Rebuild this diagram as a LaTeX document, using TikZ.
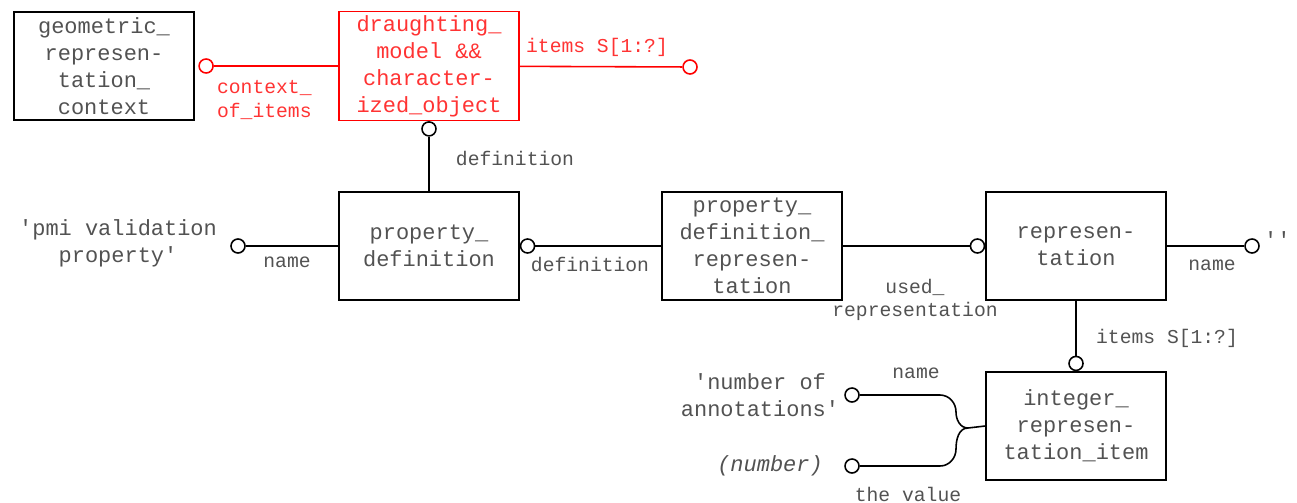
\documentclass[tikz,border=0pt]{standalone}
\usepackage{fontspec}
\setmonofont{Liberation Mono}
\usetikzlibrary{positioning}
\tikzset{
  ent/.style={draw,line width=0.9pt,align=center,minimum width=3.6cm,minimum height=2.16cm,
              inner sep=2pt,font=\ttfamily\fontsize{12.5}{15.4}\selectfont,text=black!68},
  sel/.style={ent,draw=red,text=red!80},          % highlighted entity
  rng/.style={draw,circle,fill=white,line width=0.9pt,minimum size=0.28cm,inner sep=0pt},
  lbl/.style={font=\ttfamily\fontsize{11.2}{13.5}\selectfont,text=black!68,inner sep=1pt,align=center},
  val/.style={font=\ttfamily\fontsize{12.5}{15.4}\selectfont,text=black!68,align=center,inner sep=1pt},
  ln/.style={line width=0.9pt}
}

\begin{document}
\begin{tikzpicture}[x=0.02cm,y=-0.02cm]
  \useasboundingbox (0,0) rectangle (1297,503);
  % entities
  \node[ent] (geo) at (104,66) {geometric\_\\represen-\\tation\_\\context};
  \node[sel] (drm) at (429,66) {draughting\_\\model \&\&\\character-\\ized\_object};
  \node[ent] (pd) at (429,246) {property\_\\definition};
  \node[ent] (pdr) at (752,246) {property\_\\definition\_\\represen-\\tation};
  \node[ent] (rep) at (1076,246) {represen-\\tation};
  \node[ent] (iri) at (1076,426) {integer\_\\represen-\\tation\_item};
  % rings
  \node[rng,draw=red,anchor=west] (cctx) at ([xshift=2]geo.east) {};
  \node[rng,draw=red] (citems) at (690,67) {};
  \node[rng,anchor=north] (cdef) at (drm.south) {};
  \node[rng] (cname) at (238,246) {};
  \node[rng,anchor=west] (cpd) at (pd.east) {};
  \node[rng,anchor=east] (crep) at (rep.west) {};
  \node[rng] (crepname) at (1252,246) {};
  \node[rng,anchor=south] (cits) at (iri.north) {};
  \node[rng] (cn1) at (852,395) {};
  \node[rng] (cn2) at (852,466) {};
  \coordinate (jn) at (968,428);
  % values
  \node[val] (vpmi) at (118,243) {'pmi validation\\property'};
  \node[val,anchor=west] (vnil) at (1262,240) {''};
  \node[val] (vnum) at (760,395) {'number of\\annotations'};
  \node[val] (vnumber) at (770,466) {\textit{(number)}};
  % connectors
  \draw[ln,red] (cctx) -- (drm);
  \draw[ln,red] (drm) -- (citems);
  \draw[ln] (cdef) -- (pd);
  \draw[ln] (cname) -- (pd);
  \draw[ln] (cpd) -- (pdr);
  \draw[ln] (pdr) -- (crep);
  \draw[ln] (rep) -- (crepname);
  \draw[ln] (rep) -- (cits);
  \draw[ln] (cn1) -- ++(88,0) to[out=0,in=90] ++(16,17) to[out=-90,in=180] (jn) -- (iri.west);
  \draw[ln] (cn2) -- ++(88,0) to[out=0,in=-90] ++(16,-17) to[out=90,in=180] (jn);
  % labels
  \node[lbl,red!80,anchor=west,align=left] (lctx) at (215,100) {context\_\\of\_items};
  \node[lbl,red!80] (litems) at (597,47) {items S[1:?]};
  \node[lbl] (ldef) at (515,158) {definition};
  \node[lbl] (lname) at (287,262) {name};
  \node[lbl] (ldef2) at (590,264) {definition};
  \node[lbl] (lused) at (915,300) {used\_\\representation};
  \node[lbl] (lrepname) at (1212,265) {name};
  \node[lbl] (litems2) at (1167,338) {items S[1:?]};
  \node[lbl] (lname2) at (916,373) {name};
  \node[lbl] (lvalue) at (908,494) {the value};
\end{tikzpicture}
\end{document}
